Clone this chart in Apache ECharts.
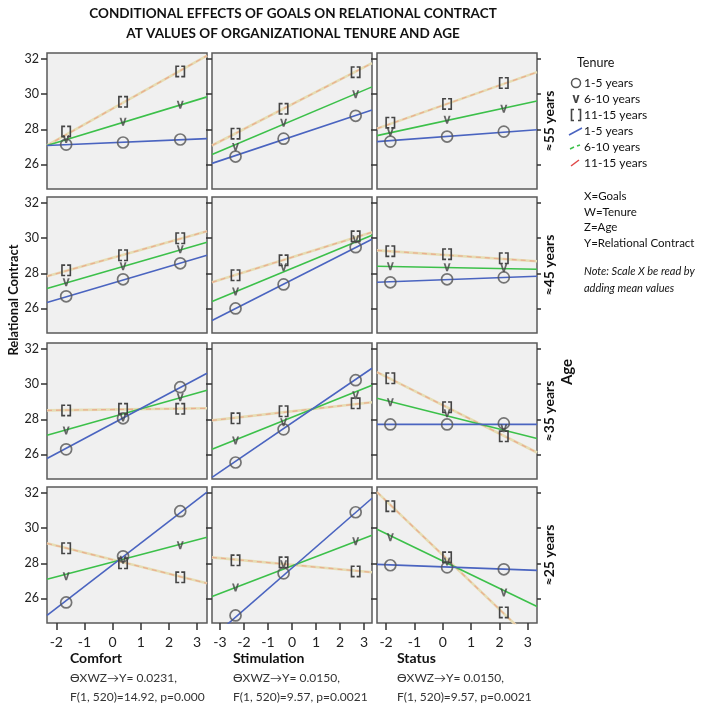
<!DOCTYPE html>
<html><head><meta charset="utf-8">
<script src="https://cdn.jsdelivr.net/npm/echarts@6/dist/echarts.min.js"></script>
<style>html,body{margin:0;padding:0;background:#fff}#c{width:707px;height:706px}</style>
</head><body><div id="c"></div>
<script>
// ---------- DATA ----------
const goals = ['Comfort', 'Stimulation', 'Status'];
const ages = ['≈55 years', '≈45 years', '≈35 years', '≈25 years'];
const tenures = ['1-5 years', '6-10 years', '11-15 years'];
const xTicksComfort = [-2, -1, 0, 1, 2, 3];
const xTicksStimulation = [-3, -2, -1, 0, 1, 2, 3];
const xTicksStatus = [-2, -1, 0, 1, 2, 3];
const xRangeComfort = [-2.33, 3.35];
const xRangeStimulation = [-3.33, 3.33];
const xRangeStatus = [-2.32, 3.32];
const yTicks = [26, 28, 30, 32];
const yRange = [24.6, 32.35];
// x positions of the plotted points (goal values)
const pointXComfort = [-1.65, 0.37, 2.4];
const pointXStimulation = [-2.35, -0.35, 2.65];
const pointXStatus = [-1.85, 0.15, 2.15];
// points per age row: [Comfort, Stimulation, Status]
const pts55_t1 = [[27.13, 27.25, 27.42], [26.45, 27.47, 28.77], [27.30, 27.59, 27.87]];
const pts55_t2 = [[27.45, 28.43, 29.40], [27.00, 28.38, 30.00], [27.85, 28.55, 29.17]];
const pts55_t3 = [[27.87, 29.57, 31.30], [27.75, 29.17, 31.26], [28.38, 29.45, 30.64]];
const pts45_t1 = [[26.69, 27.66, 28.57], [26.00, 27.37, 29.49], [27.49, 27.66, 27.77]];
const pts45_t2 = [[27.49, 28.40, 29.37], [26.97, 28.34, 29.94], [28.40, 28.35, 28.30]];
const pts45_t3 = [[28.17, 29.03, 30.00], [27.89, 28.74, 30.11], [29.26, 29.09, 28.86]];
const pts35_t1 = [[26.29, 28.06, 29.83], [25.54, 27.43, 30.23], [27.71, 27.71, 27.77]];
const pts35_t2 = [[27.37, 28.10, 29.26], [26.80, 27.83, 29.37], [28.97, 28.34, 27.49]];
const pts35_t3 = [[28.51, 28.60, 28.60], [28.06, 28.46, 28.91], [30.34, 28.69, 27.03]];
const pts25_t1 = [[25.77, 28.40, 30.97], [25.03, 27.43, 30.91], [27.89, 27.77, 27.66]];
const pts25_t2 = [[27.26, 28.20, 29.03], [26.63, 27.95, 29.26], [29.49, 28.10, 26.34]];
const pts25_t3 = [[28.86, 28.00, 27.20], [28.17, 28.06, 27.54], [31.26, 28.34, 25.20]];
// fitted lines: [value at left edge, value at right edge] per goal
const fit55_t1 = [[27.08, 27.47], [26.06, 29.10], [27.30, 27.98]];
const fit55_t2 = [[27.08, 29.85], [26.57, 30.42], [27.64, 29.62]];
const fit55_t3 = [[27.08, 32.20], [27.08, 31.77], [28.04, 31.26]];
const fit45_t1 = [[26.34, 29.03], [25.31, 29.94], [27.49, 27.83]];
const fit45_t2 = [[27.14, 29.77], [26.40, 30.17], [28.40, 28.23]];
const fit45_t3 = [[27.83, 30.40], [27.49, 30.34], [29.31, 28.69]];
const fit35_t1 = [[25.77, 30.63], [24.69, 30.91], [27.71, 27.71]];
const fit35_t2 = [[27.09, 29.66], [26.29, 29.94], [29.20, 26.91]];
const fit35_t3 = [[28.51, 28.63], [27.94, 28.97], [30.69, 26.11]];
const fit25_t1 = [[25.03, 32.06], [23.76, 31.71], [27.94, 27.60]];
const fit25_t2 = [[27.09, 29.49], [26.11, 29.60], [29.94, 25.54]];
const fit25_t3 = [[29.14, 26.86], [28.34, 27.49], [32.06, 23.33]];
const statsLine1 = ['ϴXWZ→Y= 0.0231,', 'ϴXWZ→Y= 0.0150,', 'ϴXWZ→Y= 0.0150,'];
const statsLine2 = ['F(1, 520)=14.92, p=0.000', 'F(1, 520)=9.57, p=0.0021', 'F(1, 520)=9.57, p=0.0021'];
const legendNotes = ['X=Goals', 'W=Tenure', 'Z=Age', 'Y=Relational Contract'];

// ---------- BUILD ----------
const FONT = 'Lato, "Noto Sans", sans-serif';
const pts = [[pts55_t1, pts55_t2, pts55_t3], [pts45_t1, pts45_t2, pts45_t3], [pts35_t1, pts35_t2, pts35_t3], [pts25_t1, pts25_t2, pts25_t3]];
const fits = [[fit55_t1, fit55_t2, fit55_t3], [fit45_t1, fit45_t2, fit45_t3], [fit35_t1, fit35_t2, fit35_t3], [fit25_t1, fit25_t2, fit25_t3]];
const xTicks = [xTicksComfort, xTicksStimulation, xTicksStatus];
const xRanges = [xRangeComfort, xRangeStimulation, xRangeStatus];
const pointX = [pointXComfort, pointXStimulation, pointXStatus];

const colLeft = [47, 212, 377];
const rowTop = [53, 197, 343, 487];
const PW = 160, PH = 136;

const SYM_V = 'path://M0,0 L2.2,0 L4,6 L5.8,0 L8,0 L5,9 L3,9 Z';
const SYM_BR = 'path://M0,0 L4,0 L4,1.6 L1.6,1.6 L1.6,10.4 L4,10.4 L4,12 L0,12 Z M10,0 L6,0 L6,1.6 L8.4,1.6 L8.4,10.4 L6,10.4 L6,12 L10,12 Z';
const markerSym = ['circle', SYM_V, SYM_BR];
const markerSize = [[11, 11], [7, 8], [10, 12]];

const grid = [], xAxis = [], yAxis = [], series = [];
for (let r = 0; r < 4; r++) {
  for (let c = 0; c < 3; c++) {
    const i = r * 3 + c;
    grid.push({left: colLeft[c], top: rowTop[r], width: PW, height: PH, show: true,
      backgroundColor: '#f0f0f0', borderColor: '#5a5a5a', borderWidth: 1.5, containLabel: false});
    const bottom = r === 3;
    xAxis.push({type: 'value', gridIndex: i, min: xRanges[c][0], max: xRanges[c][1],
      axisLine: {show: false, onZero: false}, splitLine: {show: false},
      axisTick: {show: bottom, customValues: xTicks[c], length: 7, lineStyle: {color: '#333', width: 1.5}},
      axisLabel: {show: bottom, customValues: xTicks[c], fontSize: 14, color: '#222', fontFamily: FONT, margin: 12}});
    yAxis.push({type: 'value', gridIndex: i, position: 'left', min: yRange[0], max: yRange[1],
      axisLine: {show: false, onZero: false}, splitLine: {show: false},
      axisTick: {show: true, customValues: yTicks, length: 6, lineStyle: {color: '#333', width: 1.5}},
      axisLabel: {show: c === 0, customValues: yTicks, fontSize: 12.5, color: '#222', fontFamily: FONT, margin: 8}});
    yAxis.push({type: 'value', gridIndex: i, position: 'right', min: yRange[0], max: yRange[1],
      axisLine: {show: false, onZero: false}, splitLine: {show: false},
      axisTick: {show: true, customValues: yTicks, length: 4, lineStyle: {color: '#333', width: 1.5}},
      axisLabel: {show: false}});
    const xl = xRanges[c][0], xr = xRanges[c][1];
    const f = fits[r];
    const lineBase = {type: 'line', xAxisIndex: i, yAxisIndex: 2 * i, showSymbol: false, silent: true, animation: false, clip: true};
    series.push(Object.assign({}, lineBase, {z: 2, data: [[xl, f[2][c][0]], [xr, f[2][c][1]]], lineStyle: {color: '#e6ddb4', width: 2.6}}));
    series.push(Object.assign({}, lineBase, {z: 2, data: [[xl, f[2][c][0]], [xr, f[2][c][1]]], lineStyle: {color: '#eaaf90', width: 1.3, type: [5, 4]}}));
    series.push(Object.assign({}, lineBase, {z: 3, data: [[xl, f[1][c][0]], [xr, f[1][c][1]]], lineStyle: {color: '#3cc04a', width: 1.6}}));
    series.push(Object.assign({}, lineBase, {z: 4, data: [[xl, f[0][c][0]], [xr, f[0][c][1]]], lineStyle: {color: '#4a64c0', width: 1.6}}));
    for (let t = 0; t < 3; t++) {
      const p = pts[r][t][c];
      series.push({type: 'scatter', xAxisIndex: i, yAxisIndex: 2 * i, silent: true, animation: false, z: 5,
        symbol: markerSym[t], symbolSize: markerSize[t],
        data: pointX[c].map((x, k) => [x, p[k]]),
        itemStyle: t === 0 ? {color: 'rgba(0,0,0,0)', borderColor: '#555', borderWidth: 1.7}
                           : {color: '#444', opacity: t === 1 ? 0.8 : 1}});
    }
  }
}

const g = [];
const txt = (text, x, y, o) => g.push(Object.assign({type: 'text', x: x, y: y,
  style: Object.assign({text: text, fill: '#111', font: '12px ' + FONT, textAlign: 'left', textVerticalAlign: 'middle'}, (o && o.style) || {})},
  o && o.rotation !== undefined ? {rotation: o.rotation} : {}));
// title
txt('CONDITIONAL EFFECTS OF GOALS ON RELATIONAL CONTRACT', 293, 14, {style: {font: 'bold 13.5px ' + FONT, textAlign: 'center'}});
txt('AT VALUES OF ORGANIZATIONAL TENURE AND AGE', 293, 34, {style: {font: 'bold 13.5px ' + FONT, textAlign: 'center'}});
// y title
txt('Relational Contract', 14, 300, {rotation: Math.PI / 2, style: {font: 'bold 13px ' + FONT, textAlign: 'center'}});
// row labels
for (let r = 0; r < 4; r++) {
  txt(ages[r], 549, rowTop[r] + PH / 2, {rotation: Math.PI / 2, style: {font: 'bold 14px ' + FONT, textAlign: 'center'}});
}
txt('Age', 567, 372, {rotation: Math.PI / 2, style: {font: 'bold 15px ' + FONT, textAlign: 'center'}});
// bottom labels
const bx = [70, 233, 397];
for (let c = 0; c < 3; c++) {
  txt(goals[c], bx[c], 658, {style: {font: 'bold 14px ' + FONT}});
  txt(statsLine1[c], bx[c], 678, {style: {font: '12px ' + FONT, fill: '#333'}});
  txt(statsLine2[c], bx[c], 697, {style: {font: '12px ' + FONT, fill: '#333'}});
}
// legend
txt('Tenure', 577, 63, {style: {font: '12.5px ' + FONT}});
const ly = [83, 99, 115, 131, 147, 163];
for (let k = 0; k < 6; k++) txt(tenures[k % 3], 584, ly[k], {style: {font: '12px ' + FONT}});
g.push({type: 'circle', shape: {cx: 576, cy: ly[0], r: 4.5}, style: {fill: 'none', stroke: '#555', lineWidth: 1.5}});
g.push({type: 'polygon', shape: {points: [[572.5, ly[1] - 4], [574.5, ly[1] - 4], [576, ly[1] + 1.5], [577.5, ly[1] - 4], [579.5, ly[1] - 4], [577, ly[1] + 4], [575, ly[1] + 4]]}, style: {fill: '#444'}});
g.push({type: 'polyline', shape: {points: [[574, ly[2] - 5.5], [571.5, ly[2] - 5.5], [571.5, ly[2] + 5.5], [574, ly[2] + 5.5]]}, style: {stroke: '#444', lineWidth: 1.6, fill: 'none'}});
g.push({type: 'polyline', shape: {points: [[578, ly[2] - 5.5], [580.5, ly[2] - 5.5], [580.5, ly[2] + 5.5], [578, ly[2] + 5.5]]}, style: {stroke: '#444', lineWidth: 1.6, fill: 'none'}});
g.push({type: 'line', shape: {x1: 569, y1: ly[3] + 4, x2: 582, y2: ly[3] - 3}, style: {stroke: '#4a64c0', lineWidth: 1.5}});
g.push({type: 'line', shape: {x1: 570, y1: ly[4] + 2, x2: 574, y2: ly[4]}, style: {stroke: '#3cc04a', lineWidth: 1.5}});
g.push({type: 'line', shape: {x1: 577, y1: ly[4] - 1, x2: 580, y2: ly[4] - 2}, style: {stroke: '#3cc04a', lineWidth: 1.5}});
g.push({type: 'line', shape: {x1: 571, y1: ly[5] + 3, x2: 579, y2: ly[5] - 3}, style: {stroke: '#e04848', lineWidth: 1.5}});
const ny = [196, 212, 227, 243];
for (let k = 0; k < 4; k++) txt(legendNotes[k], 584, ny[k], {style: {font: '11.5px ' + FONT}});
txt('Note: Scale X be read by', 584, 271, {style: {font: 'italic 11px ' + FONT}});
txt('adding mean values', 584, 288, {style: {font: 'italic 11px ' + FONT}});

const chart = echarts.init(document.getElementById('c'), null, {renderer: 'canvas'});
chart.setOption({animation: false, backgroundColor: '#fff', grid, xAxis, yAxis, series, graphic: g});
</script></body></html>
